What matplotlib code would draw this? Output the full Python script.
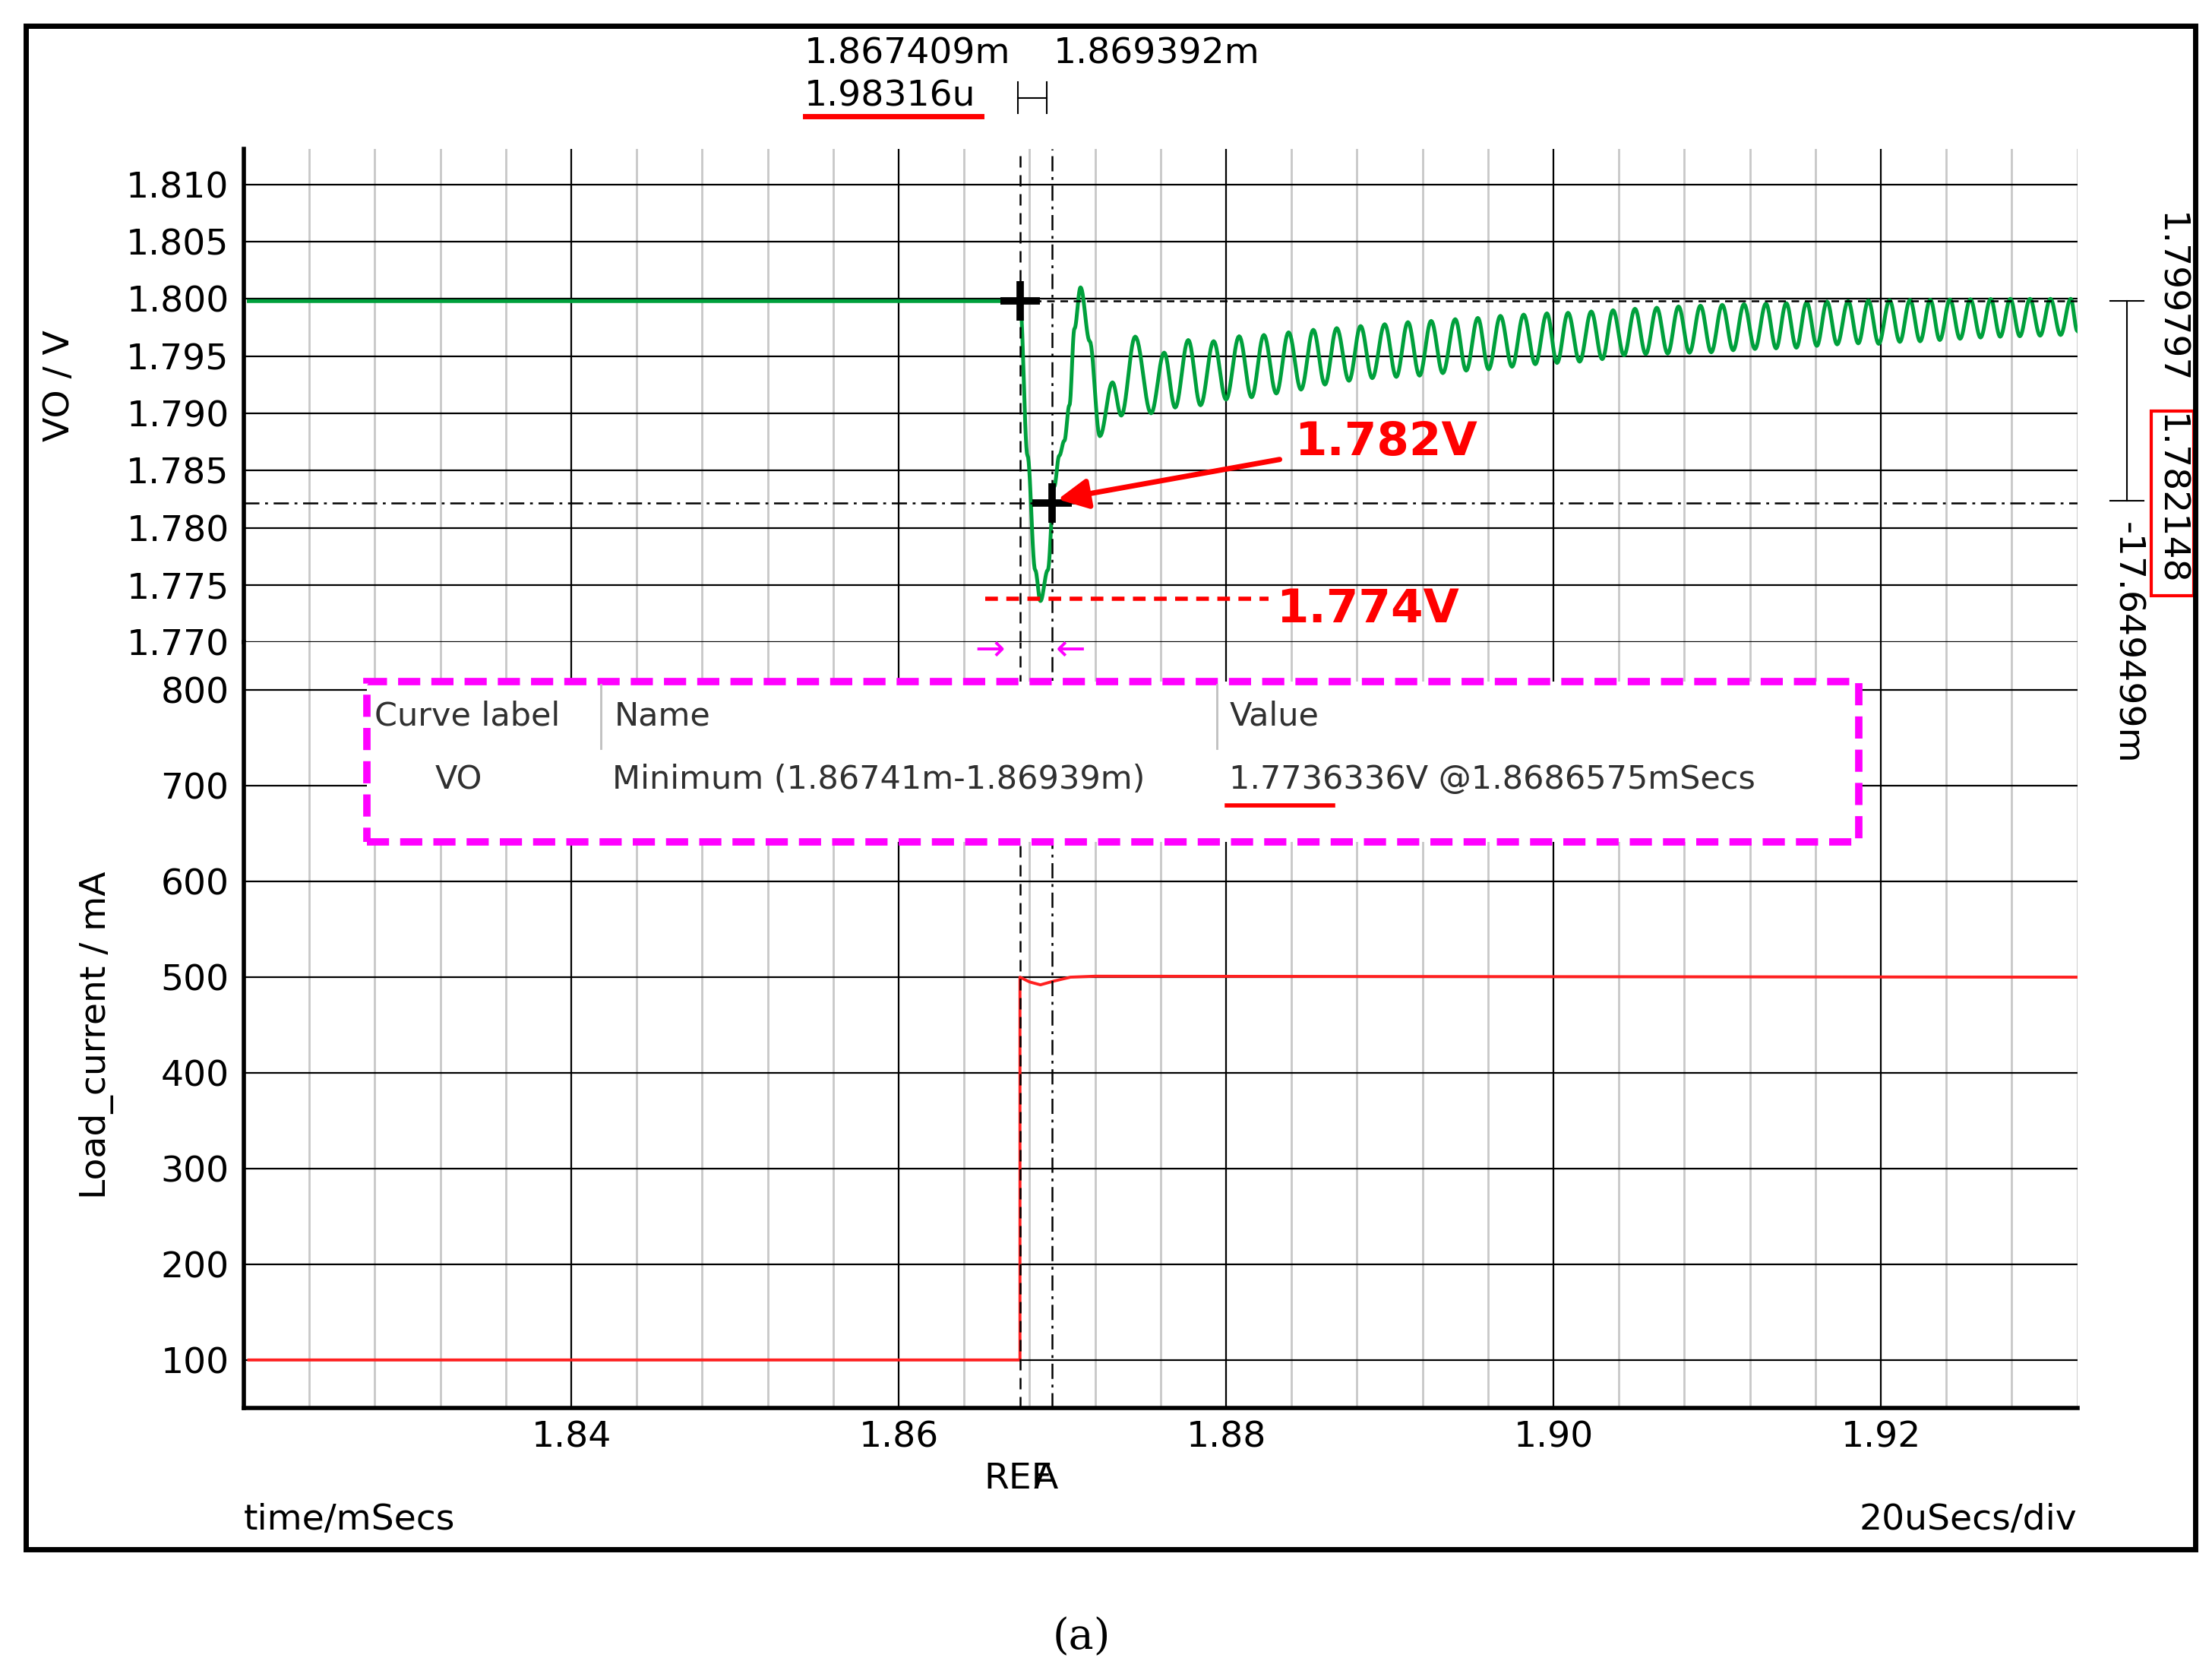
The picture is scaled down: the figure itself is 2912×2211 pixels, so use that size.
import numpy as np
import matplotlib
matplotlib.use('Agg')
import matplotlib.pyplot as plt
from matplotlib.patches import Rectangle

# ---- data ----
# flat level before the load step, and the step transient (time ms, VO V)
vo_flat = 1.7998
t_start = 1.82030
t_step = 1.86741
trans_t = [1.86741, 1.86787, 1.86834, 1.86866, 1.86911, 1.86950, 1.86981, 1.87012,
           1.87043, 1.87074, 1.87111, 1.87167, 1.87229, 1.87306, 1.87360, 1.87445]
trans_v = [1.7998, 1.7863, 1.7763, 1.7736, 1.7763, 1.7836, 1.7863, 1.7876,
           1.7907, 1.7974, 1.8010, 1.7963, 1.7880, 1.7927, 1.7898, 1.7967]

# ringing: peaks and troughs after the transient
peak_t = [1.87622, 1.87769, 1.87924, 1.88080, 1.88231, 1.88382, 1.88533, 1.88676,
          1.88822, 1.88969, 1.89111, 1.89253, 1.89400, 1.89538, 1.89676, 1.89818,
          1.89960, 1.90089, 1.90231, 1.90364, 1.90498, 1.90631, 1.90764, 1.90898,
          1.91031, 1.91164, 1.91298, 1.91422, 1.91547, 1.91671, 1.91800, 1.91924,
          1.92053, 1.92178, 1.92302, 1.92422, 1.92547, 1.92671, 1.92791, 1.92911,
          1.93036, 1.93160]
peak_v = [1.7953, 1.7964, 1.7963, 1.79673, 1.79684, 1.79707, 1.79729, 1.79744,
          1.79762, 1.79778, 1.79796, 1.79807, 1.79822, 1.79833, 1.79851, 1.79862,
          1.79873, 1.79878, 1.79889, 1.79900, 1.79913, 1.79922, 1.79933, 1.79940,
          1.79947, 1.79953, 1.79958, 1.79962, 1.79969, 1.79976, 1.79980, 1.79984,
          1.79988, 1.79990, 1.79992, 1.79994, 1.79996, 1.79998, 1.80000, 1.80000,
          1.80000, 1.80000]
trough_t = [1.87542, 1.87689, 1.87844, 1.88000, 1.88156, 1.88307, 1.88458, 1.88604,
            1.88751, 1.88893, 1.89040, 1.89182, 1.89324, 1.89467, 1.89604, 1.89747,
            1.89889, 1.90022, 1.90160, 1.90298, 1.90431, 1.90564, 1.90698, 1.90831,
            1.90964, 1.91098, 1.91231, 1.91360, 1.91484, 1.91609, 1.91733, 1.91862,
            1.91987, 1.92116, 1.92240, 1.92360, 1.92484, 1.92609, 1.92729, 1.92849,
            1.92973, 1.93098]
trough_v = [1.7900, 1.7905, 1.7907, 1.7912, 1.7914, 1.79173, 1.79207, 1.79251,
            1.79284, 1.79307, 1.79318, 1.79329, 1.79351, 1.79373, 1.79384, 1.79407,
            1.79429, 1.79440, 1.79451, 1.79473, 1.79507, 1.79518, 1.79522, 1.79529,
            1.79533, 1.79551, 1.79562, 1.79567, 1.79573, 1.79589, 1.79602, 1.79611,
            1.79607, 1.79624, 1.79629, 1.79640, 1.79651, 1.79662, 1.79669, 1.79673,
            1.79678, 1.79684]
t_end = 1.93200
v_end = 1.7972

# load current (mA)
il_t = [1.82030, 1.86741, 1.86741, 1.86800, 1.86866, 1.86950, 1.87050, 1.87200, 1.93200]
il_v = [100, 100, 500, 495, 492, 496, 500, 501, 500]

cursor_a = 1.867409
cursor_b = 1.869392
cursor_v = 1.782148
min_v = 1.7738


def smooth(ts, vs, n=14):
    out_t, out_v = [ts[0]], [vs[0]]
    for i in range(len(ts) - 1):
        s = np.linspace(0, 1, n)[1:]
        w = (1 - np.cos(np.pi * s)) / 2
        out_t.extend(ts[i] + (ts[i + 1] - ts[i]) * s)
        out_v.extend(vs[i] + (vs[i + 1] - vs[i]) * w)
    return np.array(out_t), np.array(out_v)


ring = sorted(zip(peak_t + trough_t, peak_v + trough_v))
all_t = trans_t + [p[0] for p in ring] + [t_end]
all_v = trans_v + [p[1] for p in ring] + [v_end]
gt, gv = smooth(all_t, all_v)
gt = np.concatenate([[t_start], gt])
gv = np.concatenate([[vo_flat], gv])

W, H = 1560.0, 1185.0


def F(x, y):
    return x / W, 1 - y / H


plt.rcParams['font.family'] = ['DejaVu Sans']
fig = plt.figure(figsize=(29.12, 22.11), dpi=100)

L, R = 172 / W, 1465 / W
ax1 = fig.add_axes([L, 1 - 453 / H, R - L, (453 - 105) / H])
ax2 = fig.add_axes([L, 1 - 993 / H, R - L, (993 - 453) / H])

xlim = (t_start, 1.93200)
fs = 34
for ax in (ax1, ax2):
    ax.set_xlim(*xlim)
    for s in ('top', 'right', 'bottom'):
        ax.spines[s].set_visible(False)
    ax.spines['left'].set_linewidth(4)
    ax.set_xticks(np.arange(1.82, 1.94, 0.02))
    ax.set_xticks(np.arange(1.824, 1.934, 0.004), minor=True)
    ax.grid(which='minor', axis='x', color='#c8c8c8', lw=2)
    ax.grid(which='major', axis='x', color='black', lw=1.6)
    ax.grid(which='major', axis='y', color='black', lw=1.6)
    ax.set_axisbelow(True)
    ax.tick_params(axis='y', labelsize=fs, length=0, pad=14)
    ax.tick_params(axis='x', which='both', length=0)

ax1.set_ylim(1.770, 1.8131)
ax1.set_yticks(np.arange(1.770, 1.8101, 0.005))
ax1.set_yticklabels(['%.3f' % v for v in np.arange(1.770, 1.8101, 0.005)])
ax1.set_xticklabels([])
ax2.set_ylim(50, 850)
ax2.set_yticks(range(100, 801, 100))
ax2.spines['bottom'].set_visible(True)
ax2.spines['bottom'].set_linewidth(4)
ax2.set_xticklabels(['', '1.84', '1.86', '1.88', '1.90', '1.92'])
ax2.tick_params(axis='x', labelsize=fs, pad=12)

# traces
ax1.plot(gt, gv, color='#00a03c', lw=3.6, zorder=3)
ax2.plot(il_t, il_v, color='#ff2020', lw=2.8, zorder=3)

# cursors
for ax in (ax1, ax2):
    ax.axvline(cursor_a, color='black', lw=1.8, ls=(0, (6, 4)), zorder=4)
    ax.axvline(cursor_b, color='black', lw=1.8, ls=(0, (8, 3, 1.5, 3)), zorder=4)
ax1.plot([cursor_a, xlim[1]], [1.7998, 1.7998], color='black', lw=1.8, ls=(0, (4, 3)), zorder=4)
ax1.axhline(cursor_v, color='black', lw=1.8, ls=(0, (8, 3, 1.5, 3)), zorder=4)
ax1.plot([cursor_a], [1.7998], marker='+', ms=38, mew=7, color='black', zorder=5)
ax1.plot([cursor_b], [cursor_v], marker='+', ms=38, mew=7, color='black', zorder=5)

# red annotations
ax1.plot([1.8653, 1.8826], [min_v, min_v], color='red', lw=4, ls=(0, (3, 2)), zorder=5)
ax1.annotate('', xy=(cursor_b + 0.0002, cursor_v + 0.0003), xytext=(1.8834, 1.7860),
             arrowprops=dict(arrowstyle='-|>', color='red', lw=5, mutation_scale=60), zorder=6)
fig.text(*F(913, 312), '1.782V', color='red', fontsize=44, fontweight='bold', va='center')
fig.text(*F(900, 430), '1.774V', color='red', fontsize=44, fontweight='bold', va='center')
fig.text(*F(698, 459), '\u2192', color='magenta', fontsize=34, ha='center', va='center')
fig.text(*F(755, 459), '\u2190', color='magenta', fontsize=34, ha='center', va='center')

# measurement table
tb = Rectangle(F(259, 594), (1311 - 259) / W, (594 - 481) / H, transform=fig.transFigure,
               facecolor='white', edgecolor='magenta', lw=7, ls=(0, (3, 1.5)), zorder=10)
fig.add_artist(tb)
for x in (424, 858):
    fig.add_artist(plt.Line2D([x / W, x / W], [1 - 483 / H, 1 - 528 / H], color='#c0c0c0',
                              lw=2, transform=fig.transFigure, zorder=11))
tfs = 31
for x, s in ((264, 'Curve label'), (433, 'Name'), (867, 'Value')):
    fig.text(*F(x, 505), s, fontsize=tfs, va='center', color='#303030', zorder=12)
for x, s in ((307, 'VO'), (432, 'Minimum (1.86741m-1.86939m)'), (867, '1.7736336V @1.8686575mSecs')):
    fig.text(*F(x, 550), s, fontsize=tfs, va='center', color='#303030', zorder=12)
fig.add_artist(plt.Line2D([865 / W, 940 / W], [1 - 568 / H] * 2, color='red', lw=4,
                          transform=fig.transFigure, zorder=12))

# top cursor readouts
fig.text(*F(567, 38), '1.867409m', fontsize=fs, va='center')
fig.text(*F(743, 38), '1.869392m', fontsize=fs, va='center')
fig.text(*F(567, 68), '1.98316u', fontsize=fs, va='center')
fig.add_artist(plt.Line2D([568 / W, 692 / W], [1 - 82 / H] * 2, color='red', lw=5,
                          transform=fig.transFigure))
for seg in (((718, 58), (718, 80)), ((738, 58), (738, 80)), ((718, 69), (738, 69))):
    (x0, y0), (x1, y1) = seg
    fig.add_artist(plt.Line2D([x0 / W, x1 / W], [1 - y0 / H, 1 - y1 / H], color='black',
                              lw=1.5, transform=fig.transFigure))

# right side readouts
fig.text(*F(1530, 150), '1.799797', fontsize=fs, rotation=-90, ha='center', va='top')
fig.text(*F(1530, 292), '1.782148', fontsize=fs, rotation=-90, ha='center', va='top')
fig.add_artist(Rectangle(F(1517, 420), 30 / W, 130 / H, transform=fig.transFigure,
                         fill=False, edgecolor='red', lw=3))
fig.text(*F(1500, 368), '-17.649499m', fontsize=fs, rotation=-90, ha='center', va='top')
for seg in (((1500, 212), (1500, 353)), ((1488, 212), (1512, 212)), ((1488, 353), (1512, 353))):
    (x0, y0), (x1, y1) = seg
    fig.add_artist(plt.Line2D([x0 / W, x1 / W], [1 - y0 / H, 1 - y1 / H], color='black',
                              lw=1.5, transform=fig.transFigure))

# axis labels and footer
fig.text(*F(42, 272), 'VO / V', fontsize=fs, rotation=90, ha='center', va='center')
fig.text(*F(68, 730), 'Load_current / mA', fontsize=fs, rotation=90, ha='center', va='center')
fig.text(*F(694, 1043), 'REF', fontsize=fs, va='center')
fig.text(*F(729, 1043), 'A', fontsize=fs, va='center')
fig.text(*F(172, 1072), 'time/mSecs', fontsize=fs, va='center')
fig.text(*F(1465, 1072), '20uSecs/div', fontsize=fs, va='center', ha='right')
fig.text(*F(763, 1155), '(a)', fontsize=40, ha='center', va='center', family='DejaVu Serif')

fig.add_artist(Rectangle(F(18, 1093), (1548 - 18) / W, (1093 - 18) / H, transform=fig.transFigure,
                         fill=False, edgecolor='black', lw=5))

fig.savefig('out.png', dpi=100, facecolor='white')
